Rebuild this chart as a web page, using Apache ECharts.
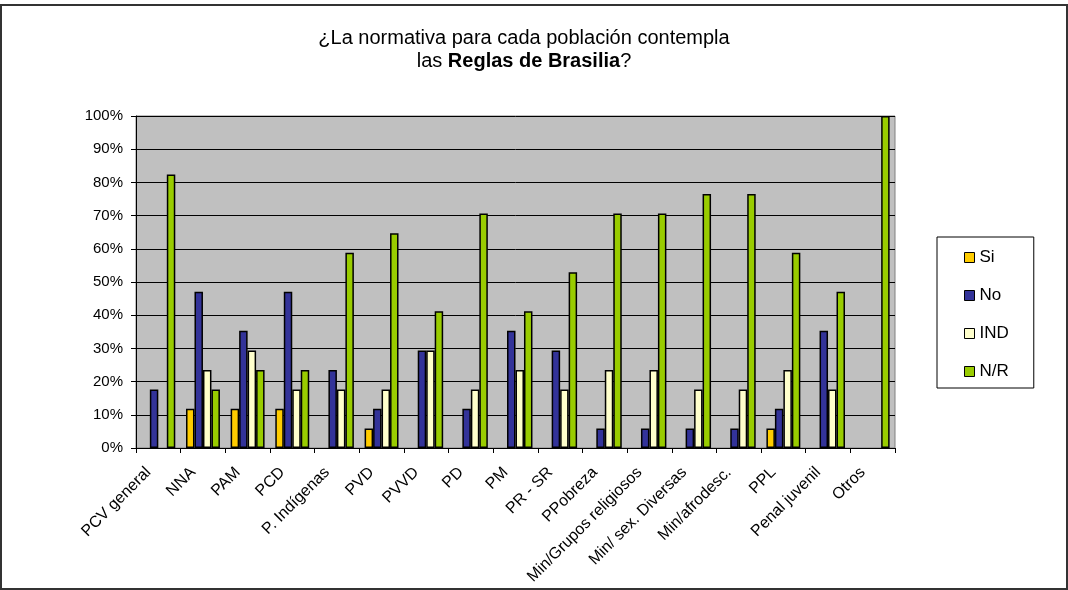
<!DOCTYPE html>
<html>
<head>
<meta charset="utf-8">
<script src="https://cdn.jsdelivr.net/npm/echarts@6/dist/echarts.min.js"></script>
<style>
  html, body { margin: 0; padding: 0; background: #fff; }
  #frame { position: absolute; left: 0; top: 4px; width: 1064px; height: 582px; border: 2px solid #333; }
  #main { position: absolute; left: 0; top: 0; width: 1068px; height: 590px; }
</style>
</head>
<body>
<div id="frame"></div>
<div id="main"></div>
<script>
// datos del grafico (porcentaje de respuestas)
var categorias = ['PCV general', 'NNA', 'PAM', 'PCD', 'P. Indígenas', 'PVD', 'PVVD', 'PD', 'PM', 'PR - SR',
    'PPobreza', 'Min/Grupos religiosos', 'Min/ sex. Diversas', 'Min/afrodesc.', 'PPL', 'Penal juvenil', 'Otros'];
var si  = [0, 11.8, 11.8, 11.8, 0, 5.9, 0, 0, 0, 0, 0, 0, 0, 0, 5.9, 0, 0];
var no  = [17.6, 47.1, 35.3, 47.1, 23.5, 11.8, 29.4, 11.8, 35.3, 29.4, 5.9, 5.9, 5.9, 5.9, 11.8, 35.3, 0];
var ind = [0, 23.5, 29.4, 17.6, 17.6, 17.6, 29.4, 17.6, 23.5, 17.6, 23.5, 23.5, 17.6, 17.6, 23.5, 17.6, 0];
var nr  = [82.4, 17.6, 23.5, 23.5, 58.8, 64.7, 41.2, 70.6, 41.2, 52.9, 70.6, 70.6, 76.5, 76.5, 58.8, 47.1, 100];
var ticksY = [0, 10, 20, 30, 40, 50, 60, 70, 80, 90, 100];

var fuente = '"Liberation Sans", Arial, sans-serif';
var myChart = echarts.init(document.getElementById('main'));

function serie(nombre, datos, color) {
    return {
        name: nombre,
        type: 'bar',
        // los ceros no se dibujan (como en Excel)
        data: datos.map(function (v) { return v === 0 ? '-' : v; }),
        barGap: '0%',
        barCategoryGap: '24%',
        itemStyle: { color: color, borderColor: '#000', borderWidth: 1.5 }
    };
}

var option = {
    animation: false,
    textStyle: { fontFamily: fuente },
    title: {
        text: '¿La normativa para cada población contempla\nlas {b|Reglas de Brasilia}?',
        left: 519,
        textAlign: 'center',
        top: 22,
        textStyle: {
            fontFamily: fuente,
            fontSize: 20,
            fontWeight: 'normal',
            color: '#000',
            lineHeight: 23,
            rich: { b: { fontFamily: fuente, fontSize: 20, fontWeight: 'bold', color: '#000', lineHeight: 23 } }
        }
    },
    legend: {
        orient: 'vertical',
        left: 937,
        top: 237,
        padding: [12, 25, 8, 27],
        itemGap: 21,
        itemWidth: 10,
        itemHeight: 10,
        borderColor: '#000',
        borderWidth: 1,
        icon: 'rect',
        itemStyle: { borderColor: '#000', borderWidth: 1 },
        textStyle: { fontFamily: fuente, fontSize: 17, color: '#000' },
        data: ['Si', 'No', 'IND', 'N/R']
    },
    grid: {
        left: 136,
        right: 173,
        top: 116,
        bottom: 142,
        show: true,
        backgroundColor: '#C0C0C0',
        borderColor: '#808080',
        borderWidth: 1
    },
    xAxis: {
        type: 'category',
        data: categorias,
        axisLine: { lineStyle: { color: '#000' } },
        axisTick: { show: true, length: 5, lineStyle: { color: '#000' } },
        axisLabel: { rotate: 45, fontSize: 16, color: '#000', margin: 12, interval: 0, padding: [0, 14, 0, 0] }
    },
    yAxis: {
        type: 'value',
        min: ticksY[0],
        max: ticksY[ticksY.length - 1],
        interval: 10,
        axisLine: { show: true, lineStyle: { color: '#000' } },
        axisTick: { show: true, length: 5, lineStyle: { color: '#000' } },
        axisLabel: { formatter: '{value}%', fontSize: 15, color: '#000', margin: 13 },
        splitLine: { lineStyle: { color: '#000', width: 1 } }
    },
    series: [
        serie('Si', si, '#FFCC00'),
        serie('No', no, '#333399'),
        serie('IND', ind, '#FFFFCC'),
        serie('N/R', nr, '#99CC00')
    ]
};

myChart.setOption(option);
</script>
</body>
</html>
